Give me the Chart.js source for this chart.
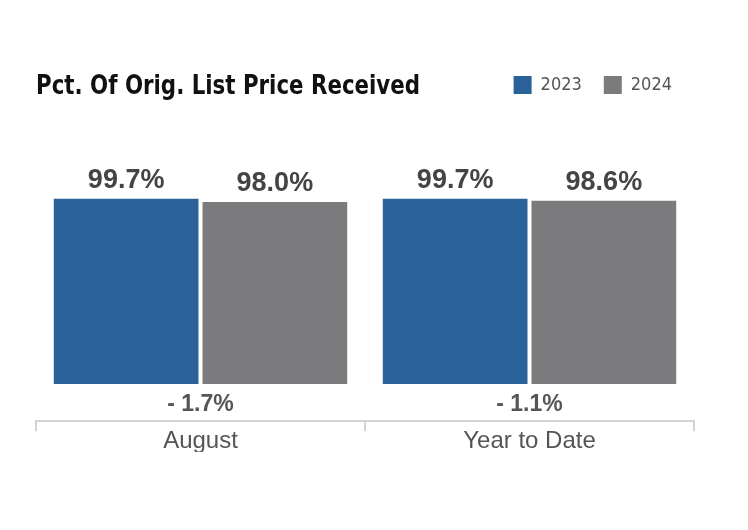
<!DOCTYPE html>
<html>
<head>
<meta charset="utf-8">
<script src="https://cdn.jsdelivr.net/npm/chart.js@4"></script>
<style>
  html, body { margin: 0; padding: 0; background: #fff; }
  #wrap { width: 748px; height: 530px; }
</style>
</head>
<body>
<div id="wrap"><canvas id="myChart"></canvas></div>
<script>
// chart data
var categories = ['August', 'Year to Date'];
var seriesNames = ['2023', '2024'];
var values2023 = [99.7, 99.7];
var values2024 = [98.0, 98.6];
var changes = [-1.7, -1.1];
var titleText = 'Pct. Of Orig. List Price Received';

var blue = '#2b6199';
var gray = '#7b7b7e';

// title drawn at the top left, same row as the legend (condensed look)
var titlePlugin = {
    id: 'sideTitle',
    afterDraw: function(chart) {
        var c = chart.ctx;
        c.save();
        c.font = 'bold 26px "DejaVu Sans Condensed", "Liberation Sans", sans-serif';
        c.fillStyle = '#111';
        c.textBaseline = 'alphabetic';
        c.textAlign = 'left';
        var w = c.measureText(titleText).width;
        c.translate(36, 94);
        c.scale(384 / w, 1);
        c.fillText(titleText, 0, 0);
        c.restore();
    }
};

// value labels above bars and change labels under each group
var labelPlugin = {
    id: 'barLabels',
    afterDatasetsDraw: function(chart) {
        var c = chart.ctx;
        c.save();
        c.font = 'bold 27px "Liberation Sans", Arial, sans-serif';
        c.fillStyle = '#444';
        c.textAlign = 'center';
        c.textBaseline = 'alphabetic';
        chart.data.datasets.forEach(function(ds, i) {
            chart.getDatasetMeta(i).data.forEach(function(bar, j) {
                c.fillText(ds.data[j].toFixed(1) + '%', bar.x, bar.y - 11);
            });
        });
        var xs = chart.scales.x;
        var zero = chart.scales.y.getPixelForValue(0);
        c.font = 'bold 23px "Liberation Sans", Arial, sans-serif';
        c.fillStyle = '#555';
        changes.forEach(function(v, j) {
            var s = (v < 0 ? '- ' : '+ ') + Math.abs(v).toFixed(1) + '%';
            c.fillText(s, xs.getPixelForValue(j), zero + 27);
        });
        c.restore();
    }
};

var ctx = document.getElementById('myChart').getContext('2d');
var myChart = new Chart(ctx, {
    type: 'bar',
    data: {
        labels: categories,
        datasets: [{
            label: seriesNames[0],
            data: values2023,
            backgroundColor: blue
        }, {
            label: seriesNames[1],
            data: values2024,
            backgroundColor: gray
        }]
    },
    options: {
        responsive: true,
        maintainAspectRatio: false,
        animation: false,
        layout: {
            padding: { top: 54, left: 36, right: 54, bottom: 78 }
        },
        plugins: {
            legend: {
                position: 'top',
                align: 'end',
                labels: {
                    boxWidth: 18,
                    boxHeight: 18,
                    padding: 22,
                    color: '#555',
                    font: { family: '"DejaVu Sans Condensed", sans-serif', size: 18 }
                }
            },
            tooltip: { enabled: false }
        },
        datasets: {
            bar: {
                categoryPercentage: 0.904,
                barPercentage: 0.973
            }
        },
        scales: {
            x: {
                grid: {
                    display: true,
                    drawOnChartArea: false,
                    offset: true,
                    tickLength: 10,
                    color: '#d4d4d4',
                    lineWidth: 2
                },
                border: { color: '#d4d4d4', width: 2 },
                ticks: {
                    color: '#555',
                    padding: -4,
                    font: { family: '"Liberation Sans", Arial, sans-serif', size: 24 }
                }
            },
            y: {
                display: false,
                min: -20,
                max: 150.7
            }
        }
    },
    plugins: [titlePlugin, labelPlugin]
});
</script>
</body>
</html>
